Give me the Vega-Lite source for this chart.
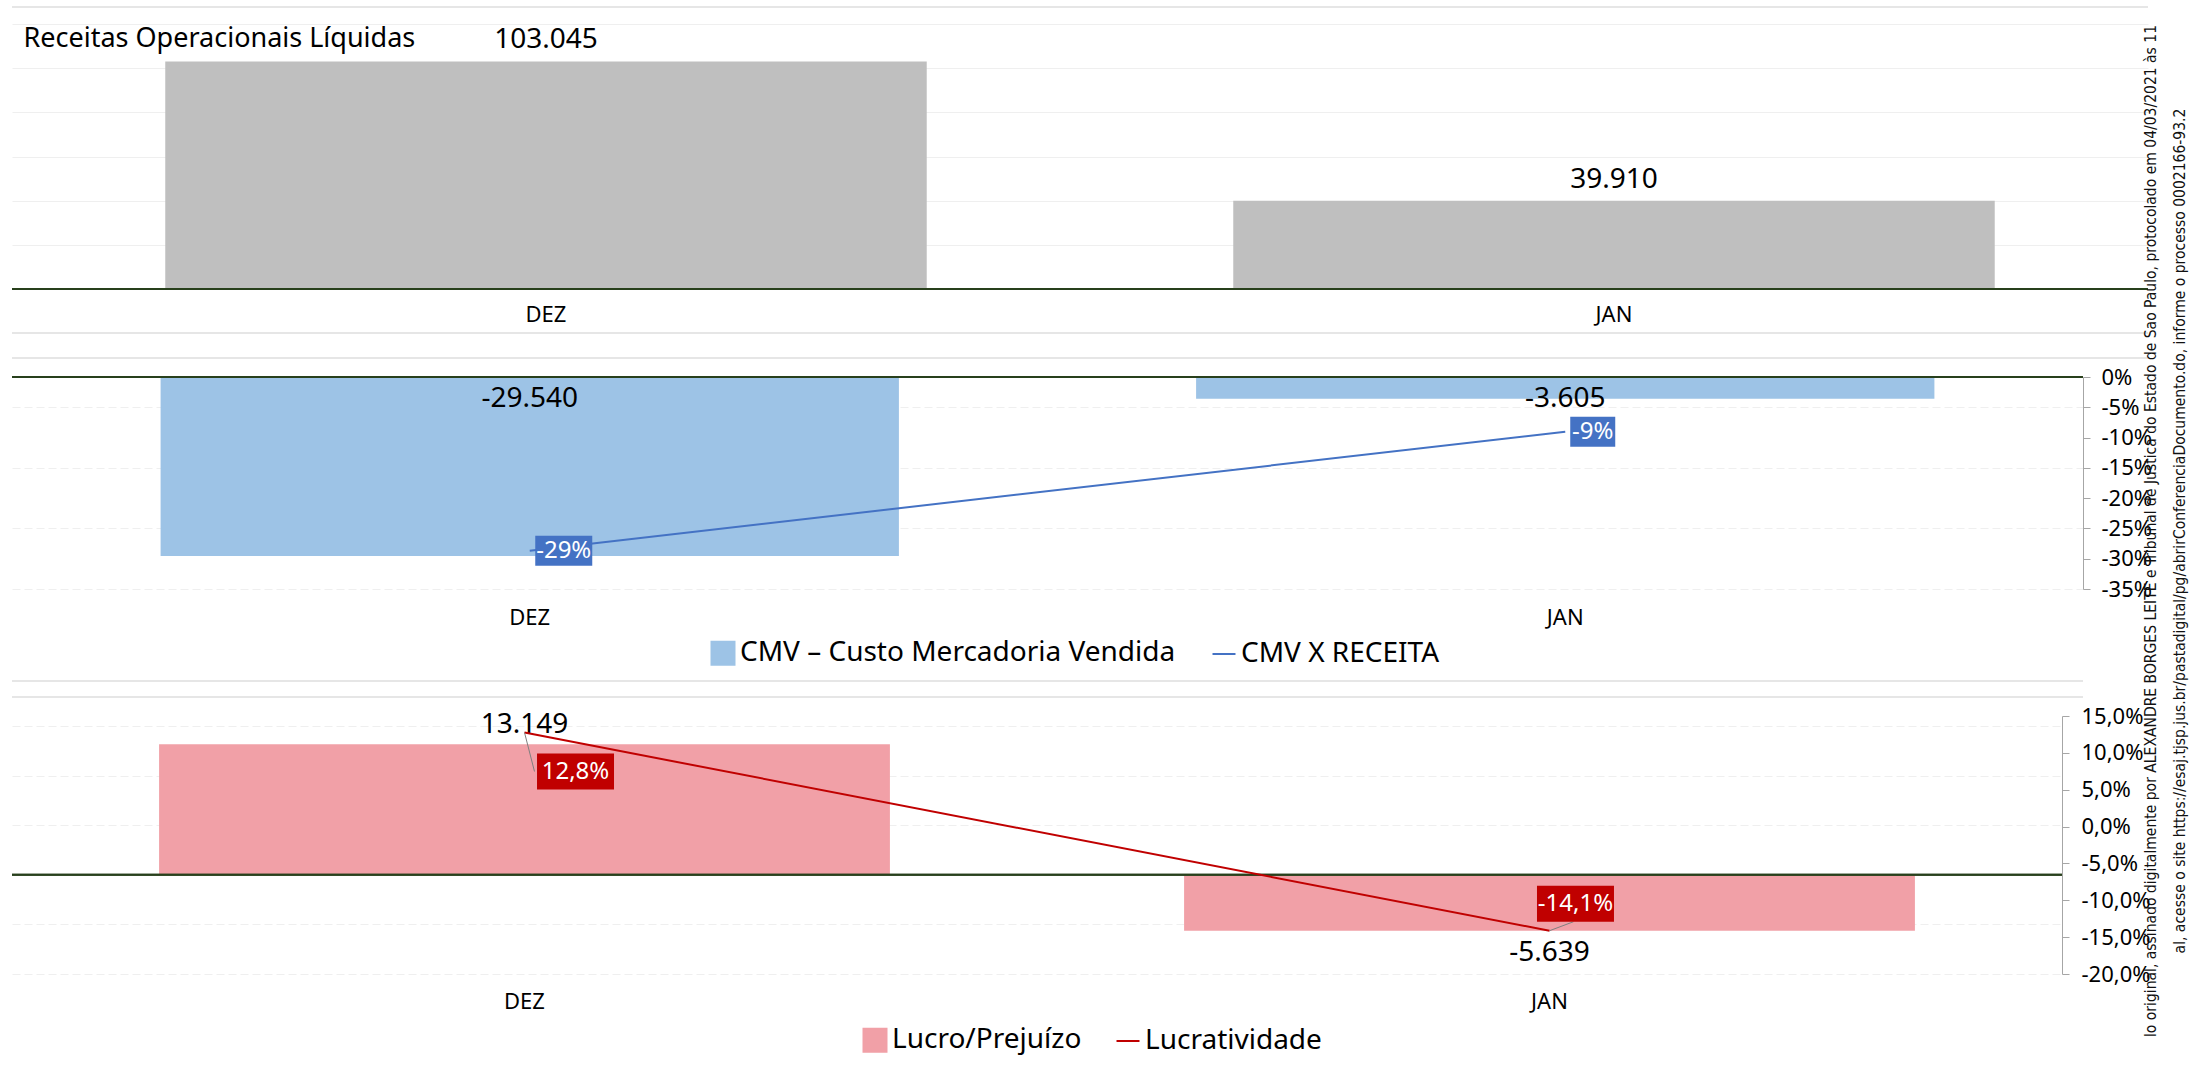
{
  "$schema": "https://vega.github.io/schema/vega-lite/v6.json",
  "padding": {"left": 11, "top": 6, "right": 0, "bottom": 0},
  "autosize": {"type": "pad"},
  "background": "white",
  "config": {
    "font": "Noto Sans",
    "locale": {"number": {"decimal": ",", "thousands": ".", "grouping": [3], "currency": ["R$", ""], "minus": "-"}},
    "view": {"stroke": null},
    "axis": {"labelColor": "#000000", "labelFont": "Noto Sans"},
    "legend": {"labelFont": "Noto Sans", "labelColor": "#000000"}
  },
  "datasets": {
    "receitas": [{"mes": "DEZ", "receita": 103045}, {"mes": "JAN", "receita": 39910}],
    "cmv": [{"mes": "DEZ", "cmv": -29540, "cmv_receita": -0.2867}, {"mes": "JAN", "cmv": -3605, "cmv_receita": -0.0903}],
    "lucro": [{"mes": "DEZ", "lucro": 13149, "lucratividade": 0.1276}, {"mes": "JAN", "lucro": -5639, "lucratividade": -0.1413}]
  },
  "title": {
    "text": ["lo original, assinado digitalmente por ALEXANDRE BORGES LEITE e Tribunal de Justica do Estado de Sao Paulo, protocolado em 04/03/2021 às 11", "al, acesse o site https://esaj.tjsp.jus.br/pastadigital/pg/abrirConferenciaDocumento.do, informe o processo 0002166-93.2"],
    "orient": "right",
    "angle": 270,
    "anchor": "middle",
    "align": "center",
    "baseline": "top",
    "offset": -52,
    "font": "Liberation Sans Narrow, DejaVu Sans Condensed, sans-serif",
    "fontSize": 15.5,
    "lineHeight": 29,
    "fontWeight": "normal",
    "color": "#111111",
    "limit": 1045
  },
  "spacing": 7,
  "resolve": {"scale": {"color": "independent"}, "legend": {"color": "independent"}},
  "vconcat": [
    {
      "width": 2136,
      "height": 265,
      "data": {"name": "receitas"},
      "layer": [
        {"mark": {"type": "bar", "color": "#bfbfbf"},
         "encoding": {
           "x": {"field": "mes", "type": "nominal", "sort": null, "scale": {"paddingInner": 0.287, "paddingOuter": 0.1435},
             "axis": {"title": null, "domain": false, "ticks": false, "tickSize": 0, "labelAngle": 0, "labelFontSize": 22, "labelPadding": 15}},
           "y": {"field": "receita", "type": "quantitative", "scale": {"domain": [0, 120000]},
           "axis": {"title": "Receitas Operacionais Líquidas", "titleX": 11, "titleY": 14, "titleAngle": 0, "titleAlign": "left", "titleBaseline": "middle", "titleFontSize": 27, "titleFontWeight": "normal", "titleColor": "#000000", "titleFont": "Noto Sans",
             "labels": false, "ticks": false, "domain": false, "grid": true, "gridColor": "#efefef", "values": [0, 20000, 40000, 60000, 80000, 100000, 120000]}}}},
        {"mark": {"type": "rule", "color": "#e6e6e6", "strokeWidth": 2}, "encoding": {"y": {"datum": 127698}}},
        {"mark": {"type": "rule", "color": "#e6e6e6", "strokeWidth": 2}, "encoding": {"y": {"datum": -19925}}},
        {"mark": {"type": "rule", "color": "#e6e6e6", "strokeWidth": 2}, "encoding": {"y": {"datum": -31245}}},
        {"mark": {"type": "rule", "color": "#28401c", "strokeWidth": 2}, "encoding": {"y": {"datum": 0}}},
        {"mark": {"type": "text", "fontSize": 28, "baseline": "middle", "dy": -21, "color": "#000000"},
         "encoding": {
           "x": {"field": "mes", "type": "nominal", "sort": null},
           "y": {"field": "receita", "type": "quantitative"}, "text": {"field": "receita", "type": "quantitative", "format": ",.0f"}}}
      ]
    },
    {
      "width": 2071,
      "height": 212,
      "data": {"name": "cmv"},
      "layer": [
        {
          "layer": [
            {"mark": {"type": "bar"},
             "encoding": {
               "x": {"field": "mes", "type": "nominal", "sort": null, "scale": {"paddingInner": 0.287, "paddingOuter": 0.1435},
                 "axis": {"title": null, "domain": false, "ticks": false, "tickSize": 0, "labelAngle": 0, "labelFontSize": 22, "labelPadding": 18}},
               "y": {"field": "cmv", "type": "quantitative", "scale": {"domain": [-35000, 0]},
                 "axis": {"title": null, "labels": false, "ticks": false, "domain": false, "grid": true, "gridColor": "#efefef", "gridDash": [8, 4], "values": [-35000, -30000, -25000, -20000, -15000, -10000, -5000, 0]}},
               "color": {"datum": "CMV – Custo Mercadoria Vendida", "type": "nominal",
                 "scale": {"domain": ["CMV – Custo Mercadoria Vendida", "CMV X RECEITA"], "range": ["#9dc3e6", "#4472c4"]},
                 "legend": {"orient": "none", "legendX": 697, "legendY": 262, "direction": "horizontal", "title": null, "labelFontSize": 28, "symbolSize": 529, "labelLimit": 0, "columnPadding": 32, "labelOffset": 3,
                   "encode": {"symbols": {"update": {
                     "shape": {"signal": "datum.value === 'CMV X RECEITA' ? 'stroke' : 'square'"},
                     "fill": {"signal": "datum.value === 'CMV X RECEITA' ? 'transparent' : '#9dc3e6'"},
                     "stroke": {"signal": "datum.value === 'CMV X RECEITA' ? '#4472c4' : 'transparent'"},
                     "strokeWidth": {"value": 2},
                     "opacity": {"value": 1}}}}}
               }}},
            {"mark": {"type": "rule", "color": "#e6e6e6", "strokeWidth": 2}, "encoding": {"y": {"datum": -50188}}},
            {"mark": {"type": "rule", "color": "#e6e6e6", "strokeWidth": 2}, "encoding": {"y": {"datum": -52829}}},
            {"mark": {"type": "rule", "color": "#28401c", "strokeWidth": 2}, "encoding": {"y": {"datum": 0}}},
            {"mark": {"type": "text", "fontSize": 28, "baseline": "middle", "dy": 22, "color": "#000000"},
             "encoding": {
               "x": {"field": "mes", "type": "nominal", "sort": null},
               "y": {"datum": 0}, "text": {"field": "cmv", "type": "quantitative", "format": ",.0f"}}}
          ]
        },
        {
          "layer": [
            {"mark": {"type": "line", "strokeWidth": 2},
             "encoding": {
               "x": {"field": "mes", "type": "nominal", "sort": null},
               "y": {"field": "cmv_receita", "type": "quantitative", "scale": {"domain": [-0.35, 0]},
                 "axis": {"orient": "right", "title": null, "grid": false, "format": ".0%", "labelOverlap": false, "values": [0, -0.05, -0.1, -0.15, -0.2, -0.25, -0.3, -0.35], "domainColor": "#a6a6a6", "tickColor": "#a6a6a6", "tickSize": 7, "labelPadding": 11, "labelFontSize": 22}},
               "color": {"datum": "CMV X RECEITA", "type": "nominal"}
             }},
            {"transform": [{"filter": "datum.mes === 'DEZ'"}],
             "mark": {"type": "point", "shape": "M0.193,-0.526H2.193V0.526H0.193Z", "size": 3249, "filled": true, "color": "#4472c4", "opacity": 1},
             "encoding": {"x": {"field": "mes", "type": "nominal", "sort": null},
               "y": {"field": "cmv_receita", "type": "quantitative", "axis": {"orient": "right", "title": null, "grid": false, "format": ".0%", "labelOverlap": false, "values": [0, -0.05, -0.1, -0.15, -0.2, -0.25, -0.3, -0.35], "domainColor": "#a6a6a6", "tickColor": "#a6a6a6", "tickSize": 7, "labelPadding": 11, "labelFontSize": 22}}}},
            {"transform": [{"filter": "datum.mes === 'DEZ'"}],
             "mark": {"type": "text", "color": "#ffffff", "fontSize": 24, "dx": 34, "baseline": "middle"},
             "encoding": {"x": {"field": "mes", "type": "nominal", "sort": null},
               "y": {"field": "cmv_receita", "type": "quantitative", "axis": {"orient": "right", "title": null, "grid": false, "format": ".0%", "labelOverlap": false, "values": [0, -0.05, -0.1, -0.15, -0.2, -0.25, -0.3, -0.35], "domainColor": "#a6a6a6", "tickColor": "#a6a6a6", "tickSize": 7, "labelPadding": 11, "labelFontSize": 22}},
               "text": {"field": "cmv_receita", "type": "quantitative", "format": ".0%"}}},
            {"transform": [{"filter": "datum.mes === 'JAN'"}],
             "mark": {"type": "point", "shape": "M0.222,-0.667H2.222V0.667H0.222Z", "size": 2025, "filled": true, "color": "#4472c4", "opacity": 1},
             "encoding": {"x": {"field": "mes", "type": "nominal", "sort": null},
               "y": {"field": "cmv_receita", "type": "quantitative", "axis": {"orient": "right", "title": null, "grid": false, "format": ".0%", "labelOverlap": false, "values": [0, -0.05, -0.1, -0.15, -0.2, -0.25, -0.3, -0.35], "domainColor": "#a6a6a6", "tickColor": "#a6a6a6", "tickSize": 7, "labelPadding": 11, "labelFontSize": 22}}}},
            {"transform": [{"filter": "datum.mes === 'JAN'"}],
             "mark": {"type": "text", "color": "#ffffff", "fontSize": 24, "dx": 27.5, "baseline": "middle"},
             "encoding": {"x": {"field": "mes", "type": "nominal", "sort": null},
               "y": {"field": "cmv_receita", "type": "quantitative", "axis": {"orient": "right", "title": null, "grid": false, "format": ".0%", "labelOverlap": false, "values": [0, -0.05, -0.1, -0.15, -0.2, -0.25, -0.3, -0.35], "domainColor": "#a6a6a6", "tickColor": "#a6a6a6", "tickSize": 7, "labelPadding": 11, "labelFontSize": 22}},
               "text": {"field": "cmv_receita", "type": "quantitative", "format": ".0%"}}}
          ]
        }
      ],
      "resolve": {"scale": {"y": "independent"}}
    },
    {
      "width": 2050,
      "height": 258,
      "data": {"name": "lucro"},
      "layer": [
        {
          "layer": [
            {"mark": {"type": "bar"},
             "encoding": {
               "x": {"field": "mes", "type": "nominal", "sort": null, "scale": {"paddingInner": 0.287, "paddingOuter": 0.1435},
                 "axis": {"title": null, "domain": false, "ticks": false, "tickSize": 0, "labelAngle": 0, "labelFontSize": 22, "labelPadding": 17}},
               "y": {"field": "lucro", "type": "quantitative", "scale": {"domain": [-10000, 15000]},
                 "axis": {"title": null, "labels": false, "ticks": false, "domain": false, "grid": true, "gridColor": "#efefef", "gridDash": [8, 4], "values": [-10000, -5000, 0, 5000, 10000, 15000]}},
               "color": {"datum": "Lucro/Prejuízo", "type": "nominal",
                 "scale": {"domain": ["Lucro/Prejuízo", "Lucratividade"], "range": ["#f1a0a7", "#c00000"]},
                 "legend": {"orient": "none", "legendX": 849, "legendY": 310, "direction": "horizontal", "title": null, "labelFontSize": 28, "symbolSize": 529, "labelLimit": 0, "columnPadding": 30, "labelOffset": 3,
                   "encode": {"symbols": {"update": {
                     "shape": {"signal": "datum.value === 'Lucratividade' ? 'stroke' : 'square'"},
                     "fill": {"signal": "datum.value === 'Lucratividade' ? 'transparent' : '#f1a0a7'"},
                     "stroke": {"signal": "datum.value === 'Lucratividade' ? '#c00000' : 'transparent'"},
                     "strokeWidth": {"value": 2},
                     "opacity": {"value": 1}}}}}
               }}},
            {"mark": {"type": "rule", "color": "#28401c", "strokeWidth": 2}, "encoding": {"y": {"datum": 0}}},
            {"transform": [{"filter": "datum.lucro >= 0"}],
             "mark": {"type": "text", "fontSize": 28, "baseline": "middle", "dy": -19, "color": "#000000"},
             "encoding": {"x": {"field": "mes", "type": "nominal", "sort": null}, "y": {"field": "lucro", "type": "quantitative"}, "text": {"field": "lucro", "type": "quantitative", "format": ",.0f"}}},
            {"transform": [{"filter": "datum.lucro < 0"}],
             "mark": {"type": "text", "fontSize": 28, "baseline": "middle", "dy": 22, "color": "#000000"},
             "encoding": {"x": {"field": "mes", "type": "nominal", "sort": null}, "y": {"field": "lucro", "type": "quantitative"}, "text": {"field": "lucro", "type": "quantitative", "format": ",.0f"}}}
          ]
        },
        {
          "layer": [
            {"mark": {"type": "line", "strokeWidth": 2},
             "encoding": {
               "x": {"field": "mes", "type": "nominal", "sort": null},
               "y": {"field": "lucratividade", "type": "quantitative", "scale": {"domain": [-0.2, 0.15]},
                 "axis": {"orient": "right", "title": null, "grid": false, "format": ".1%", "labelOverlap": false, "values": [0.15, 0.1, 0.05, 0, -0.05, -0.1, -0.15, -0.2], "domainColor": "#a6a6a6", "tickColor": "#a6a6a6", "tickSize": 7, "labelPadding": 12, "labelFontSize": 22}},
               "color": {"datum": "Lucratividade", "type": "nominal"}
             }},
            {"transform": [{"filter": "datum.mes === 'DEZ'"}],
             "mark": {"type": "point", "shape": "M0,0L0.26,1.013", "size": 5929, "filled": false, "color": "#7f7f7f", "strokeWidth": 1, "opacity": 1},
             "encoding": {"x": {"field": "mes", "type": "nominal", "sort": null},
               "y": {"field": "lucratividade", "type": "quantitative", "axis": {"orient": "right", "title": null, "grid": false, "format": ".1%", "labelOverlap": false, "values": [0.15, 0.1, 0.05, 0, -0.05, -0.1, -0.15, -0.2], "domainColor": "#a6a6a6", "tickColor": "#a6a6a6", "tickSize": 7, "labelPadding": 12, "labelFontSize": 22}}}},
            {"transform": [{"filter": "datum.mes === 'JAN'"}],
             "mark": {"type": "point", "shape": "M0,0L0.623,-0.234", "size": 5929, "filled": false, "color": "#7f7f7f", "strokeWidth": 1, "opacity": 1},
             "encoding": {"x": {"field": "mes", "type": "nominal", "sort": null},
               "y": {"field": "lucratividade", "type": "quantitative", "axis": {"orient": "right", "title": null, "grid": false, "format": ".1%", "labelOverlap": false, "values": [0.15, 0.1, 0.05, 0, -0.05, -0.1, -0.15, -0.2], "domainColor": "#a6a6a6", "tickColor": "#a6a6a6", "tickSize": 7, "labelPadding": 12, "labelFontSize": 22}}}},
            {"transform": [{"filter": "datum.mes === 'DEZ'"}],
             "mark": {"type": "point", "shape": "M0.325,0.546H2.325V1.481H0.325Z", "size": 5929, "filled": true, "color": "#c00000", "opacity": 1},
             "encoding": {"x": {"field": "mes", "type": "nominal", "sort": null},
               "y": {"field": "lucratividade", "type": "quantitative", "axis": {"orient": "right", "title": null, "grid": false, "format": ".1%", "labelOverlap": false, "values": [0.15, 0.1, 0.05, 0, -0.05, -0.1, -0.15, -0.2], "domainColor": "#a6a6a6", "tickColor": "#a6a6a6", "tickSize": 7, "labelPadding": 12, "labelFontSize": 22}}}},
            {"transform": [{"filter": "datum.mes === 'DEZ'"}],
             "mark": {"type": "text", "color": "#ffffff", "fontSize": 24, "dx": 51, "dy": 39, "baseline": "middle"},
             "encoding": {"x": {"field": "mes", "type": "nominal", "sort": null},
               "y": {"field": "lucratividade", "type": "quantitative", "axis": {"orient": "right", "title": null, "grid": false, "format": ".1%", "labelOverlap": false, "values": [0.15, 0.1, 0.05, 0, -0.05, -0.1, -0.15, -0.2], "domainColor": "#a6a6a6", "tickColor": "#a6a6a6", "tickSize": 7, "labelPadding": 12, "labelFontSize": 22}},
               "text": {"field": "lucratividade", "type": "quantitative", "format": ".1%"}}},
            {"transform": [{"filter": "datum.mes === 'JAN'"}],
             "mark": {"type": "point", "shape": "M-0.325,-1.169H1.675V-0.234H-0.325Z", "size": 5929, "filled": true, "color": "#c00000", "opacity": 1},
             "encoding": {"x": {"field": "mes", "type": "nominal", "sort": null},
               "y": {"field": "lucratividade", "type": "quantitative", "axis": {"orient": "right", "title": null, "grid": false, "format": ".1%", "labelOverlap": false, "values": [0.15, 0.1, 0.05, 0, -0.05, -0.1, -0.15, -0.2], "domainColor": "#a6a6a6", "tickColor": "#a6a6a6", "tickSize": 7, "labelPadding": 12, "labelFontSize": 22}}}},
            {"transform": [{"filter": "datum.mes === 'JAN'"}],
             "mark": {"type": "text", "color": "#ffffff", "fontSize": 24, "dx": 26, "dy": -27, "baseline": "middle"},
             "encoding": {"x": {"field": "mes", "type": "nominal", "sort": null},
               "y": {"field": "lucratividade", "type": "quantitative", "axis": {"orient": "right", "title": null, "grid": false, "format": ".1%", "labelOverlap": false, "values": [0.15, 0.1, 0.05, 0, -0.05, -0.1, -0.15, -0.2], "domainColor": "#a6a6a6", "tickColor": "#a6a6a6", "tickSize": 7, "labelPadding": 12, "labelFontSize": 22}},
               "text": {"field": "lucratividade", "type": "quantitative", "format": ".1%"}}}
          ]
        }
      ],
      "resolve": {"scale": {"y": "independent"}}
    }
  ]
}
